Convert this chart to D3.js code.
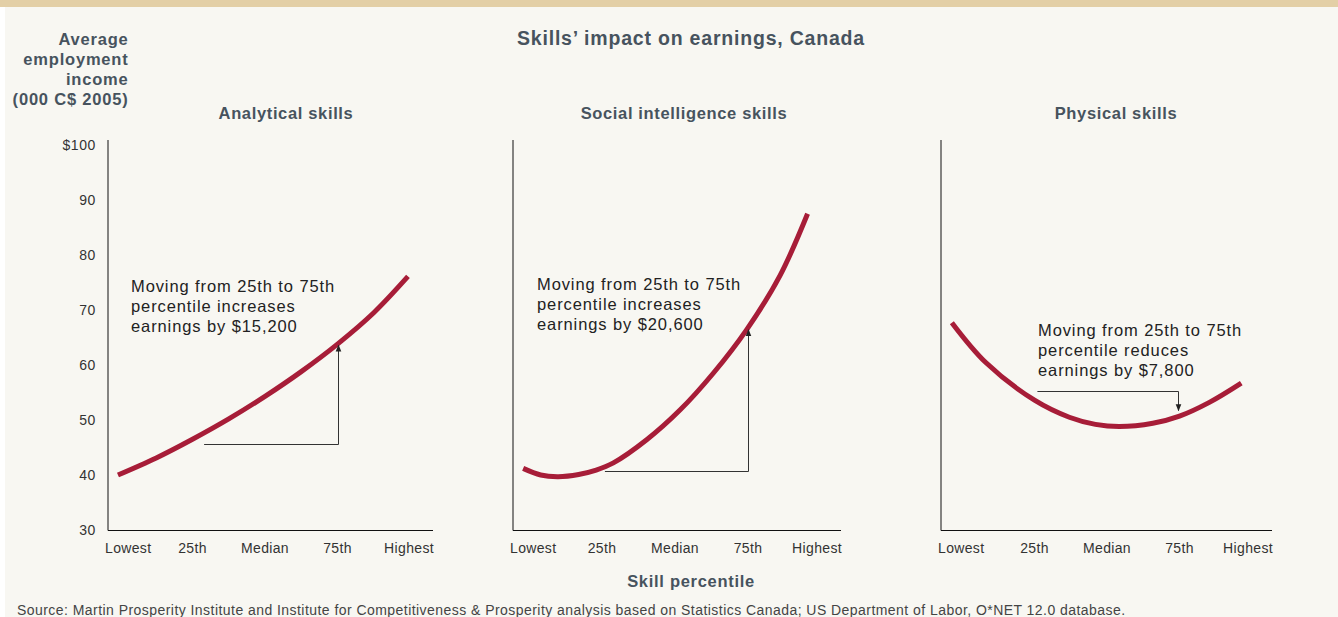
<!DOCTYPE html>
<style>* {padding:0; margin:0; border: 0; outline: 0;} body {background:#fff;}</style>
<body>
<script src="https://d3js.org/d3.v7.min.js"></script>
<script>

// data: [percentile, income in 000 C$]
analytical = [[-0.7,40.0],[12.5,43.1],[25,46.5],[37.5,50.2],[50,54.3],[62.5,58.8],[75,63.8],[87.5,69.5],[99.3,76.1]]
social = [[-2,41.2],[4,40.0],[10,39.7],[17,40.1],[23,40.9],[28.9,42.2],[40.3,46.4],[51.7,51.8],[63.1,58.5],[74.5,66.4],[86,76.3],[95.4,87.5]]
physical = [[-3.5,67.7],[8.3,60.4],[25,53.6],[37,50.5],[46,49.2],[54.3,48.8],[65.8,49.4],[75,50.7],[85.3,53.2],[96.3,56.7]]

panelTitles = ["Analytical skills", "Social intelligence skills", "Physical skills"]
notes = [
  ["Moving from 25th to 75th", "percentile increases", "earnings by $15,200"],
  ["Moving from 25th to 75th", "percentile increases", "earnings by $20,600"],
  ["Moving from 25th to 75th", "percentile reduces", "earnings by $7,800"]
]
// bracket: [from percentile, from value, to percentile, to value]
brackets = [[29, 45.6, 75, 63.6], [26, 40.7, 75, 66.4], [26, 55.3, 74.5, 51.7]]
xTicks = [0, 25, 50, 75, 100]
xTickLabels = ["Lowest", "25th", "Median", "75th", "Highest"]
yTicks = [30, 40, 50, 60, 70, 80, 90, 100]

W = 1338
H = 617
ink = "#47535e"
red = "#a71d38"

panels = [
  {ax: 108, end: 433, x0: 120, x1: 410, tc: 286, data: analytical, tx: 131, ty: 292},
  {ax: 513, end: 841, x0: 529, x1: 821, tc: 684, data: social, tx: 537, ty: 290},
  {ax: 941, end: 1272, x0: 962, x1: 1252, tc: 1116, data: physical, tx: 1038, ty: 336}
]

svg = d3.select('body').append('svg')
  .attr('width', W).attr('height', H)
  .style('font-family', '"Liberation Sans", Arial, Helvetica, sans-serif')

svg.append('rect').attr('x', 5).attr('y', 0).attr('width', W - 5).attr('height', H).attr('fill', '#f8f7f2')
svg.append('rect').attr('x', 0).attr('y', 0).attr('width', W).attr('height', 7).attr('fill', '#e3cfa6')

defs = svg.append('defs')
defs.append('marker').attr('id', 'arr')
  .attr('viewBox', '0 0 10 10').attr('refX', 9).attr('refY', 5)
  .attr('markerWidth', 7).attr('markerHeight', 7).attr('orient', 'auto')
  .append('path').attr('d', 'M0,1 L10,5 L0,9 Z').attr('fill', '#222')

y = d3.scaleLinear().domain([30, 100]).range([530, 145])

// titles
svg.append('text').attr('x', 691).attr('y', 45).attr('text-anchor', 'middle')
  .attr('font-size', 19.5).attr('font-weight', 'bold').attr('fill', ink)
  .attr('letter-spacing', 0.8)
  .text("Skills\u2019 impact on earnings, Canada")

;["Average", "employment", "income", "(000 C$ 2005)"].forEach(function(t, i){
  svg.append('text').attr('x', 128.5).attr('y', 45 + i * 20).attr('text-anchor', 'end')
    .attr('font-size', 16.5).attr('font-weight', 'bold').attr('fill', ink)
    .attr('letter-spacing', 0.8).text(t)
})

svg.append('text').attr('x', 691).attr('y', 587).attr('text-anchor', 'middle')
  .attr('font-size', 16.5).attr('font-weight', 'bold').attr('fill', ink)
  .attr('letter-spacing', 0.7).text("Skill percentile")

svg.append('text').attr('x', 17).attr('y', 615).attr('font-size', 14).attr('fill', '#444')
  .attr('letter-spacing', 0.45)
  .text("Source: Martin Prosperity Institute and Institute for Competitiveness & Prosperity analysis based on Statistics Canada; US Department of Labor, O*NET 12.0 database.")

// y tick labels on the first panel only
svg.selectAll('.ytick').data(yTicks).enter().append('text')
  .attr('x', 96).attr('y', function(d){ return y(d) }).attr('dy', '0.35em')
  .attr('text-anchor', 'end').attr('font-size', 14).attr('fill', '#333')
  .attr('letter-spacing', 0.6)
  .text(function(d){ return d == 100 ? "$100" : d })

panels.forEach(function(p, k){
  var x = d3.scaleLinear().domain([0, 100]).range([p.x0, p.x1])
  var g = svg.append('g')

  g.append('text').attr('x', p.tc).attr('y', 119).attr('text-anchor', 'middle')
    .attr('font-size', 16.5).attr('font-weight', 'bold').attr('fill', ink)
    .attr('letter-spacing', 0.65).text(panelTitles[k])

  g.append('line').attr('x1', p.ax).attr('x2', p.ax).attr('y1', 140).attr('y2', 530.5)
    .attr('stroke', '#111').attr('stroke-width', 1)
  g.append('line').attr('x1', p.ax).attr('x2', p.end).attr('y1', 530.5).attr('y2', 530.5)
    .attr('stroke', '#111').attr('stroke-width', 1)

  g.selectAll('.xt').data(xTicks).enter().append('text')
    .attr('x', function(d, i){ return i == 0 ? p.ax - 3 : i == 4 ? p.end + 1 : x(d) })
    .attr('y', 553)
    .attr('text-anchor', function(d, i){ return i == 0 ? 'start' : i == 4 ? 'end' : 'middle' })
    .attr('font-size', 14).attr('fill', '#333').attr('letter-spacing', 0.35)
    .text(function(d, i){ return xTickLabels[i] })

  g.append('path').datum(p.data)
    .attr('d', d3.line().x(function(d){ return x(d[0]) }).y(function(d){ return y(d[1]) }).curve(d3.curveCatmullRom))
    .attr('fill', 'none').attr('stroke', red).attr('stroke-width', 5)

  var b = brackets[k]
  g.append('path')
    .attr('d', 'M' + x(b[0]) + ',' + Math.round(y(b[1])) + '.5 H' + (Math.round(x(b[2])) + 0.5) + ' V' + y(b[3]))
    .attr('fill', 'none').attr('stroke', '#333').attr('stroke-width', 1)
    .attr('marker-end', 'url(#arr)')

  notes[k].forEach(function(t, i){
    g.append('text').attr('x', p.tx).attr('y', p.ty + i * 20)
      .attr('font-size', 16.5).attr('fill', '#222').attr('letter-spacing', 0.9).text(t)
  })
})

</script>
